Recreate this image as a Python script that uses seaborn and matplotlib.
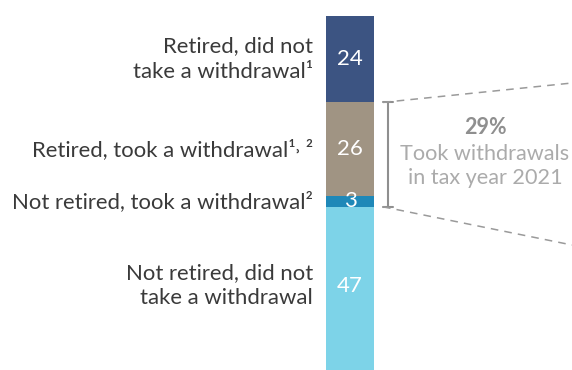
import matplotlib
matplotlib.use("Agg")
import matplotlib.pyplot as plt
import seaborn as sns
import numpy as np
import pandas as pd

# Data (top to bottom)
categories = ["Retired, did not\ntake a withdrawal\u00b9",
              "Retired, took a withdrawal\u00b9\u02d2 \u00b2",
              "Not retired, took a withdrawal\u00b2",
              "Not retired, did not\ntake a withdrawal"]
values = [24, 26, 3, 47]
colors = ["#3C5482", "#A09483", "#1E88B8", "#7DD3E8"]
bracket_value = "29%"
bracket_text = "Took withdrawals\nin tax year 2021"

sns.set_theme(style="white")
plt.rcParams['font.family'] = ['Lato', 'DejaVu Sans']

fig = plt.figure(figsize=(5.72, 3.70), dpi=100)
ax = fig.add_axes([0, 0, 1, 1])

W = 572.0
H = 370.0
px_per_x = 60.0
px_per_y = 3.6
xmin = -0.4 - 326 / px_per_x
xmax = xmin + W / px_per_x
ymax = 100 + 16 / px_per_y
ymin = ymax - H / px_per_y

def dx(px):
    return xmin + px / px_per_x

def dy(py):
    return ymax - py / px_per_y

bottom_order = list(range(len(values)))[::-1]
cum = np.cumsum([values[i] for i in bottom_order])
df = pd.DataFrame({"cat": ["bar"] * len(values),
                   "cum": cum[::-1],
                   "color": [colors[i] for i in bottom_order][::-1]})
for _, row in df.iterrows():
    sns.barplot(x=["bar"], y=[row["cum"]], color=row["color"], saturation=1,
                width=0.8, ax=ax, linewidth=0)

ax.set_xlim(xmin, xmax)
ax.set_ylim(ymin, ymax)
ax.axis("off")

tops = {}
acc = 0
for i in bottom_order:
    tops[i] = (acc, acc + values[i])
    acc += values[i]

for i, (lab, v) in enumerate(zip(categories, values)):
    lo, hi = tops[i]
    yc = (lo + hi) / 2
    if i == 3:
        yc = (hi + dy(H)) / 2 + 0.8
    ax.text(0, yc, str(v), color="white", ha="center", va="center",
            fontsize=16)
    ax.text(dx(313), yc, lab, color="#3a3a3a", ha="right", va="center",
            fontsize=15.9, linespacing=1.35)

b_top = tops[1][1]
b_bot = tops[2][0]
bx = dx(388)
gcol = "#8f8f8f"
ax.plot([bx, bx], [b_bot, b_top], color=gcol, lw=1.5)
ax.plot([dx(383), dx(393)], [b_top, b_top], color=gcol, lw=1.5)
ax.plot([dx(383), dx(393)], [b_bot, b_bot], color=gcol, lw=1.5)

ax.plot([dx(383), dx(572)], [b_top, dy(83)], color="#9a9a9a", lw=1.1,
        dashes=(5, 4))
ax.plot([dx(383), dx(572)], [b_bot, dy(245)], color="#9a9a9a", lw=1.1,
        dashes=(5, 4))

ax.text(dx(485), dy(127), bracket_value, color="#8f8f8f", ha="center",
        va="center", fontsize=15.5, fontweight="bold")
ax.text(dx(485), dy(166), bracket_text, color="#ababab", ha="center",
        va="center", fontsize=15.6, linespacing=1.2)

fig.savefig("out.png", dpi=100)
